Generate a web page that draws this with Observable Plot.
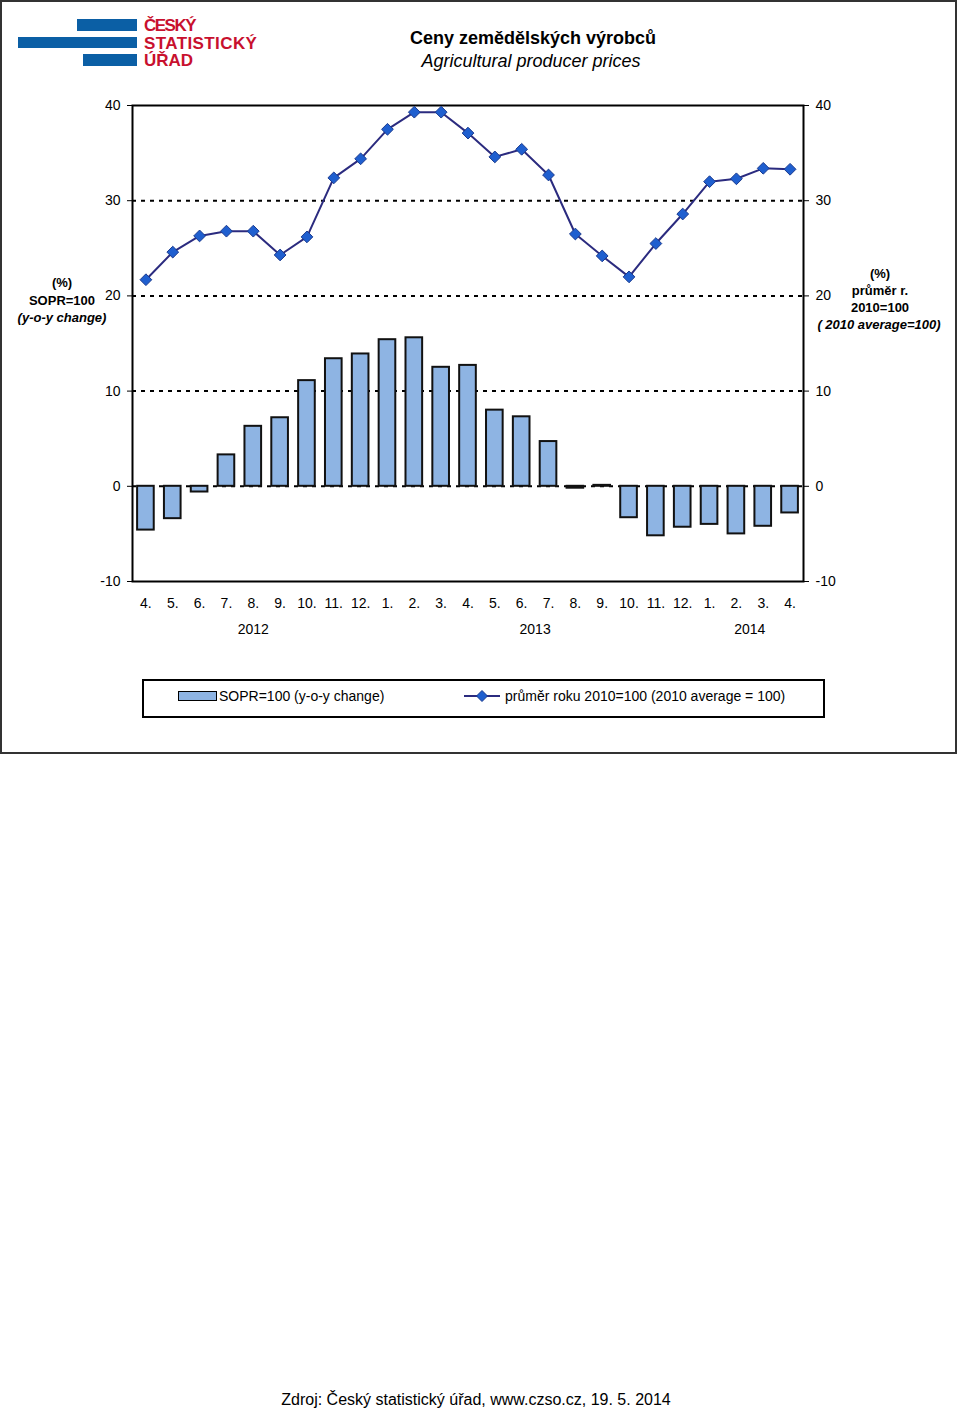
<!DOCTYPE html>
<html><head><meta charset="utf-8">
<script src="https://cdn.jsdelivr.net/npm/d3@7"></script>
<script src="https://cdn.jsdelivr.net/npm/@observablehq/plot@0.6"></script>
<style>
body{margin:0;background:#fff;font-family:"Liberation Sans",Arial,sans-serif;}
#page{position:relative;width:960px;height:1410px;overflow:hidden;background:#fff;}
.t{position:absolute;white-space:nowrap;color:#000;}
#chart{position:absolute;left:0;top:0;}
</style></head><body><div id="page"></div>
<script>
// ---- data ----
const periods = ["2012-04","2012-05","2012-06","2012-07","2012-08","2012-09","2012-10","2012-11","2012-12",
  "2013-01","2013-02","2013-03","2013-04","2013-05","2013-06","2013-07","2013-08","2013-09","2013-10","2013-11","2013-12",
  "2014-01","2014-02","2014-03","2014-04"];
const monthLabels = ["4.","5.","6.","7.","8.","9.","10.","11.","12.","1.","2.","3.","4.","5.","6.","7.","8.","9.","10.","11.","12.","1.","2.","3.","4."];
const yoyChange = [-4.6,-3.4,-0.6,3.3,6.3,7.2,11.1,13.4,13.9,15.4,15.6,12.5,12.7,8.0,7.3,4.7,-0.2,0.1,-3.3,-5.2,-4.3,-4.0,-5.0,-4.2,-2.8];
const vs2010 = [21.7,24.6,26.3,26.8,26.8,24.3,26.2,32.4,34.4,37.5,39.3,39.3,37.1,34.6,35.4,32.7,26.5,24.2,22.0,25.5,28.6,32.0,32.3,33.4,33.3];
const yTicks = [-10,0,10,20,30,40];
const gridValues = [0,10,20,30];
const years = ["2012","2013","2014"];

// ---- layout ----
const W = 960, H = 760, ML = 132, MR = 157, MT = 105, MB = 179;
const FONT = '"Liberation Sans", Arial, sans-serif';
const barFill = "#8eb4e3", lineColor = "#2b2b7f", dotFill = "#1f5fcf", dotStroke = "#1b3b8f";

const rows = periods.map((p, i) => ({p, yoy: yoyChange[i], idx: vs2010[i]}));
const step = (W - ML - MR) / periods.length;
const barInset = step * 0.19;
const yearMarks = years.map(y => {
  const ids = periods.map((p, i) => p.startsWith(y) ? i : -1).filter(i => i >= 0);
  const mid = (ids[0] + ids[ids.length - 1]) / 2;
  const a = Math.floor(mid);
  return Plot.text([{year: y, p: periods[a]}], {x: "p", text: "year", frameAnchor: "bottom", dy: 52, dx: (mid - a) * step, fontSize: 14, fill: "#000"});
});

const chart = Plot.plot({
  width: W, height: H, marginLeft: ML, marginRight: MR, marginTop: MT, marginBottom: MB,
  style: {fontFamily: FONT, fontSize: "14px", color: "#000", background: "transparent"},
  x: {type: "band", domain: periods, padding: 0, round: false, label: null},
  y: {domain: [-10, 40], label: null},
  marks: [
    Plot.ruleY(gridValues, {stroke: "#000", strokeWidth: 2, strokeDasharray: "4,5"}),
    Plot.barY(rows, {x: "p", y: "yoy", fill: barFill, stroke: "#111", strokeWidth: 2, insetLeft: barInset, insetRight: barInset}),
    Plot.frame({stroke: "#000", strokeWidth: 2}),
    Plot.line(rows, {x: "p", y: "idx", stroke: lineColor, strokeWidth: 2}),
    Plot.dot(rows, {x: "p", y: "idx", symbol: "diamond2", r: 5.3, fill: dotFill, stroke: dotStroke, strokeWidth: 1}),
    Plot.axisY({anchor: "left", ticks: yTicks, tickSize: 5, tickPadding: 7, tickFormat: d => `${d}`, fontSize: 14, label: null}),
    Plot.axisY({anchor: "right", ticks: yTicks, tickSize: 5, tickPadding: 7, tickFormat: d => `${d}`, fontSize: 14, label: null}),
    Plot.axisX({tickSize: 0, tickPadding: 17, tickFormat: p => monthLabels[periods.indexOf(p)], fontSize: 14, label: null}),
    ...yearMarks
  ]
});
chart.id = "chart";

const page = document.getElementById("page");
// outer border
const box = document.createElement("div");
box.style.cssText = "position:absolute;left:0;top:0;width:957px;height:754px;box-sizing:border-box;border:2px solid #333;";
page.appendChild(box);
page.appendChild(chart);

// helper: text placed by its baseline
function txt(s, x, baseline, size, opts = {}) {
  const d = document.createElement("div");
  d.className = "t";
  d.textContent = s;
  const lh = opts.lh || size;
  d.style.fontSize = size + "px";
  d.style.lineHeight = lh + "px";
  d.style.top = (baseline - ((lh - 1.117 * size) / 2 + 0.905 * size)) + "px";
  d.style.left = x + "px";
  if (opts.bold) d.style.fontWeight = "bold";
  if (opts.italic) d.style.fontStyle = "italic";
  if (opts.color) d.style.color = opts.color;
  if (opts.ls) d.style.letterSpacing = opts.ls + "px";
  if (opts.center) d.style.transform = "translateX(-50%)";
  page.appendChild(d);
  return d;
}
function rect(x, y, w, h, css) {
  const d = document.createElement("div");
  d.style.cssText = `position:absolute;left:${x}px;top:${y}px;width:${w}px;height:${h}px;box-sizing:border-box;${css}`;
  page.appendChild(d);
  return d;
}

// logo
const logoBlue = "#0b5fa5", logoRed = "#c8102e";
rect(77, 19, 60, 12, `background:${logoBlue};`);
rect(18, 37, 119, 11, `background:${logoBlue};`);
rect(83, 54, 54, 12, `background:${logoBlue};`);
txt("ČESKÝ", 144, 31.5, 17, {bold: true, color: logoRed, lh: 15, ls: -1.5});
txt("STATISTICKÝ", 144, 49.3, 17, {bold: true, color: logoRed, lh: 15, ls: 0.4});
txt("ÚŘAD", 144, 66, 17, {bold: true, color: logoRed, lh: 15});

// titles
txt("Ceny zemědělských výrobců", 533, 44.5, 18, {bold: true, center: true});
txt("Agricultural producer prices", 531, 67, 18, {italic: true, center: true});

// axis titles
txt("(%)", 62, 287, 13, {bold: true, center: true});
txt("SOPR=100", 62, 305.5, 13, {bold: true, center: true});
txt("(y-o-y change)", 62, 322, 13, {bold: true, italic: true, center: true});
txt("(%)", 880, 278, 13, {bold: true, center: true});
txt("průměr r.", 880, 295, 13, {bold: true, center: true});
txt("2010=100", 880, 312, 13, {bold: true, center: true});
txt("( 2010 average=100)", 879, 329, 13, {bold: true, italic: true, center: true});

// legend
rect(142, 679, 683, 39, "border:2px solid #000;");
rect(178, 691, 39, 10, `background:${barFill};border:1.5px solid #000;`);
txt("SOPR=100 (y-o-y change)", 219, 701, 14);
const lg = document.createElementNS("http://www.w3.org/2000/svg", "svg");
lg.setAttribute("width", 40); lg.setAttribute("height", 16);
lg.style.cssText = "position:absolute;left:462px;top:688px;";
lg.innerHTML = `<line x1="2" y1="8" x2="38" y2="8" stroke="${lineColor}" stroke-width="2"/>
<path d="M20,2.5L25.5,8L20,13.5L14.5,8Z" fill="${dotFill}" stroke="${dotStroke}" stroke-width="1"/>`;
page.appendChild(lg);
txt("průměr roku 2010=100 (2010 average = 100)", 505, 701, 14);

// footer
txt("Zdroj: Český statistický úřad, www.czso.cz, 19. 5. 2014", 476, 1405.5, 16, {center: true});
</script>
</body></html>
